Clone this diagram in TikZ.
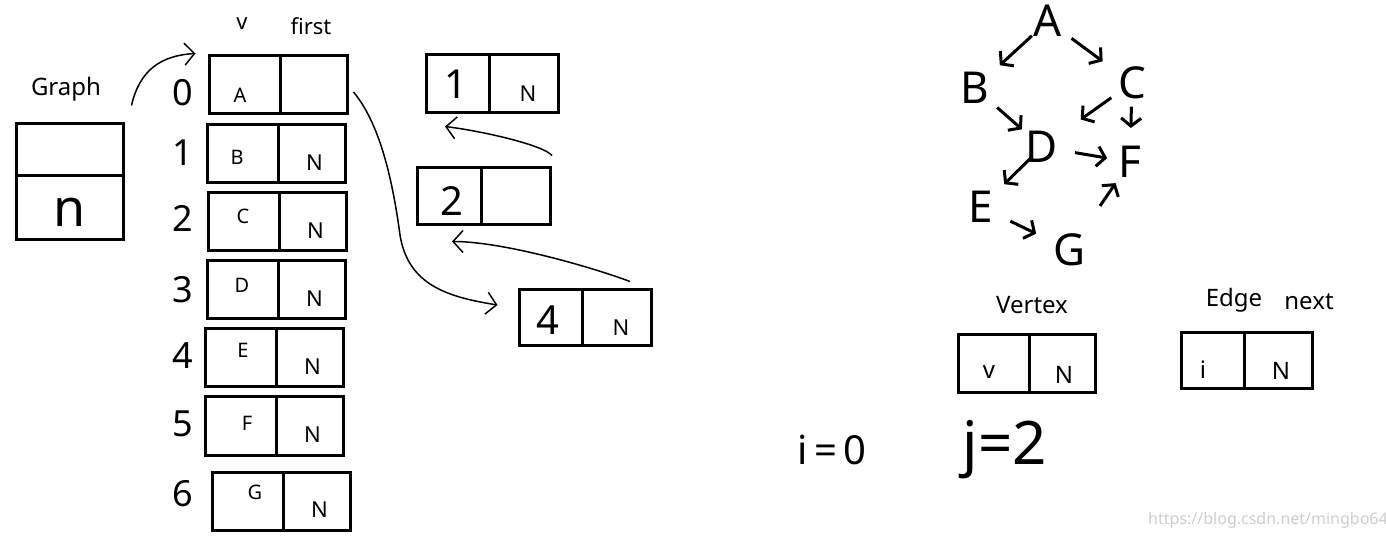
\documentclass[tikz,border=0pt]{standalone}
\usepackage{fontspec}
\setmainfont{Noto Sans}
\usetikzlibrary{arrows.meta,calc}
\begin{document}
\begin{tikzpicture}[x=0.5pt,y=-0.5pt]
  % Definir colores
  \definecolor{linecolor}{RGB}{0,0,0}
  \definecolor{markcolor}{RGB}{205,205,205}

  % Configurar estilos
  \tikzset{
    cell/.style={draw=linecolor, line width=1.5pt, inner sep=0pt, minimum height=29pt},
    txt/.style={inner sep=0pt, font=\fontsize{11}{11}\selectfont},
    label/.style={inner sep=0pt, font=\fontsize{12}{12}\selectfont},
    hand/.style={inner sep=0pt, font=\fontsize{18}{18}\selectfont},
    vert/.style={inner sep=0pt, font=\fontsize{22}{22}\selectfont},
    link/.style={line width=0.75pt, -{Straight Barb[length=5pt,width=11pt,line width=0.75pt]}},
    garrow/.style={line width=1.5pt, -{Straight Barb[length=4pt,width=10pt]}}
  }

  \useasboundingbox (0,0) rectangle (1386,539);

  % Estructura Graph
  \node[label] (grl) at (66,89) {Graph};
  \node[cell, minimum width=53.5pt, minimum height=26pt] (gr1) at (69.5,150) {};
  \node[cell, minimum width=53.5pt, minimum height=32pt] (gr2) at (69.5,208) {};
  \node[txt, font=\fontsize{26}{26}\selectfont] (grn) at (70,212) {n};

  % Arreglo de vertices
  \node[txt] (lv) at (242,24) {v};
  \node[txt] (lfirst) at (311,26) {first};
  \foreach \i/\xl/\yt/\ch/\cx/\cy/\iy in {0/209/56/A/240/95/93, 1/207/125/B/237/157/153,
      2/208/193/C/243/216/218, 3/207/261/D/242/285/290, 4/205/329/E/243/350/356,
      5/205/397/F/247/423/424, 6/212/472/G/255/492/494} {
    \node[cell, minimum width=35.5pt] (v\i) at ({\xl+35.5},{\yt+29}) {};
    \node[cell, minimum width=33.5pt] (f\i) at ({\xl+71+33.5},{\yt+29}) {};
    \node[txt, font=\fontsize{10}{10}\selectfont] (c\i) at (\cx,\cy) {\ch};
    \node[hand] (idx\i) at (183,\iy) {\i};
  }
  \foreach \i in {1,...,6}
    \node[txt] (nn\i) at ($(f\i)+(3,9)$) {N};

  % Nodos de aristas
  \node[cell, minimum width=31.5pt] (e1a) at (457.5,84) {};
  \node[cell, minimum width=34.5pt] (e1b) at (523.5,84) {};
  \node[hand, font=\fontsize{20}{20}\selectfont] (e1i) at (456,84) {1};
  \node[txt] (e1n) at (528,94) {N};
  \node[cell, minimum width=32pt, minimum height=28.5pt] (e2a) at (449,196.5) {};
  \node[cell, minimum width=34.5pt, minimum height=28.5pt] (e2b) at (515.5,196.5) {};
  \node[hand, font=\fontsize{20}{20}\selectfont] (e2i) at (452,201) {2};
  \node[cell, minimum width=31.5pt, minimum height=28pt] (e4a) at (550.5,318) {};
  \node[cell, minimum width=34.5pt, minimum height=28pt] (e4b) at (616.5,318) {};
  \node[hand, font=\fontsize{20}{20}\selectfont] (e4i) at (548,320) {4};
  \node[txt] (e4n) at (621,328) {N};

  % Enlaces
  \draw[link] ([shift={(7,-17)}]gr1.north east) .. controls +(8,-35) and +(-35,2) .. ([shift={(-12,-1)}]v0.north west);
  \draw[link] ([shift={(5,7)}]f0.east) .. controls +(25,30) and +(-8,-60) .. (400,235)
    .. controls +(8,50) and +(-50,-8) .. ([shift={(-20,-13)}]e4a.west);
  \draw[link] ([shift={(13.5,-7)}]e4b.north) .. controls +(-40,-15) and +(50,0) .. ([shift={(3,15)}]e2a.south);
  \draw[link] ([shift={(36.5,-11)}]e2b.north) .. controls +(-8,-10) and +(40,5) .. ([shift={(-12.5,12)}]e1a.south);

  % Grafo dibujado
  \node[vert] (gA) at (1048,21) {A};
  \node[vert] (gB) at (975,88) {B};
  \node[vert] (gC) at (1132,83) {C};
  \node[vert] (gD) at (1042,147) {D};
  \node[vert] (gE) at (981,207) {E};
  \node[vert] (gF) at (1130,162) {F};
  \node[vert] (gG) at (1070,250) {G};
  \foreach \s/\t/\a/\b in {gA/gB/0.22/0.66, gA/gC/0.28/0.65, gB/gD/0.33/0.7, gC/gD/0.23/0.57,
      gC/gF/0.3/0.57, gD/gE/0.18/0.62, gD/gF/0.375/0.74, gE/gG/0.33/0.62, gG/gF/0.5/0.76}
    \draw[garrow] ($(\s)!\a!(\t)$) -- ($(\s)!\b!(\t)$);

  % Estructuras Vertex y Edge
  \node[label] (lvx) at (1032,305) {Vertex};
  \node[cell, minimum width=35.5pt] (vx1) at (993.5,364) {};
  \node[cell, minimum width=33pt] (vx2) at (1062,364) {};
  \node[label] (vxv) at (989,372) {v};
  \node[label] (vxn) at (1064,375) {N};
  \node[label] (led) at (1234,300) {Edge};
  \node[label] (lnext) at (1309,302) {next};
  \node[cell, minimum width=31.5pt, minimum height=28pt] (ed1) at (1212.5,361) {};
  \node[cell, minimum width=34pt, minimum height=28pt] (ed2) at (1278,361) {};
  \node[label] (edi) at (1203,370) {i};
  \node[label] (edn) at (1281,371) {N};

  % Indices
  \node[hand, font=\fontsize{20}{20}\selectfont] (ii) at (832,450) {i\kern3pt=\kern3pt0};
  \node[hand, font=\fontsize{30}{30}\selectfont] (jj) at (1005,450) {j=2};

  % Marca de agua
  \node[txt, text=markcolor, font=\fontsize{8}{8}\selectfont] (wm) at (1268,520) {https://blog.csdn.net/mingbo64};
\end{tikzpicture}
\end{document}
